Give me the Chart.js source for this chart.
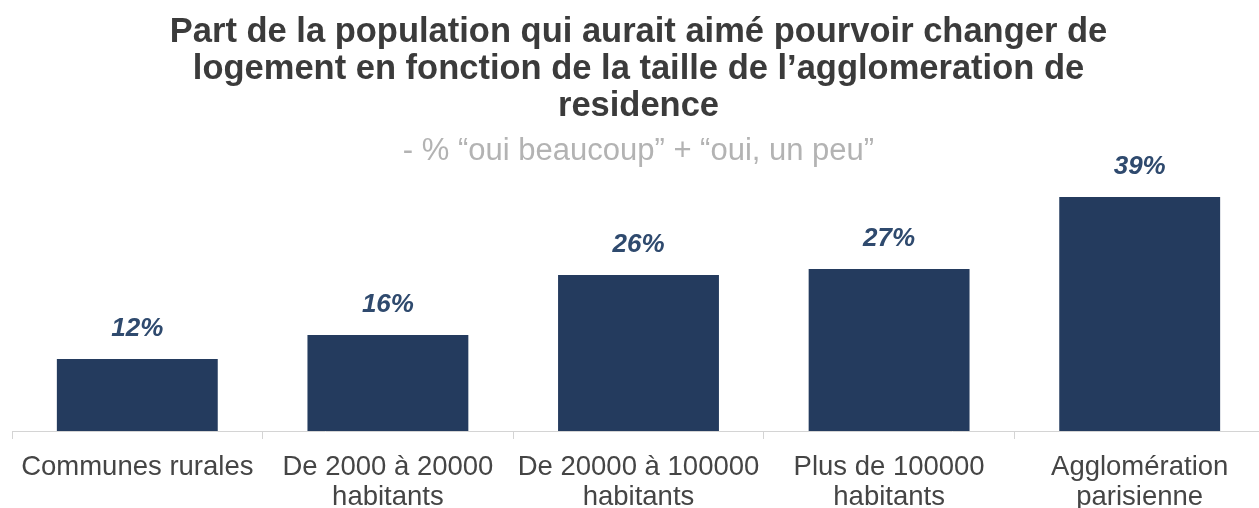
<!DOCTYPE html>
<html>
<head>
<meta charset="utf-8">
<script src="https://cdn.jsdelivr.net/npm/chart.js@4/dist/chart.umd.min.js"></script>
<style>
html,body{margin:0;padding:0;background:#fff;overflow:hidden;}
#wrap{width:1265px;height:508px;}
</style>
</head>
<body>
<div id="wrap"><canvas id="c" width="1265" height="508"></canvas></div>
<script>
const categories = [
  ["Communes rurales"],
  ["De 2000 à 20000", "habitants"],
  ["De 20000 à 100000", "habitants"],
  ["Plus de 100000", "habitants"],
  ["Agglomération", "parisienne"]
];
const values = [12, 16, 26, 27, 39];
const valueLabels = ["12%", "16%", "26%", "27%", "39%"];
const titleLines = [
  "Part de la population qui aurait aimé pourvoir changer de",
  "logement en fonction de la taille de l’agglomeration de",
  "residence"
];
const subtitleText = "- % “oui beaucoup” + “oui, un peu”";

const FONT = '"Liberation Sans", Arial, sans-serif';

const valueLabelPlugin = {
  id: 'valueLabels',
  afterDatasetsDraw(chart) {
    const ctx = chart.ctx;
    const meta = chart.getDatasetMeta(0);
    ctx.save();
    ctx.font = 'italic bold 26px ' + FONT;
    ctx.fillStyle = '#2f4a6e';
    ctx.textAlign = 'center';
    ctx.textBaseline = 'middle';
    meta.data.forEach((bar, i) => {
      ctx.fillText(valueLabels[i], bar.x, bar.y - 30);
    });
    ctx.restore();
  }
};

new Chart(document.getElementById('c'), {
  type: 'bar',
  data: {
    labels: categories,
    datasets: [{
      data: values,
      backgroundColor: '#243b5e',
      borderWidth: 0,
      categoryPercentage: 1,
      barPercentage: 0.642
    }]
  },
  options: {
    responsive: false,
    animation: false,
    layout: { padding: { left: 12, right: 0, top: 14, bottom: 0 } },
    plugins: {
      legend: { display: false },
      tooltip: { enabled: false },
      title: {
        display: true,
        text: titleLines,
        color: '#3b3b3b',
        font: { family: FONT, size: 34.5, weight: 'bold', lineHeight: 1.072 },
        padding: { top: 0, bottom: 9 }
      },
      subtitle: {
        display: true,
        text: subtitleText,
        color: '#b3b3b3',
        font: { family: FONT, size: 31, lineHeight: 1.15 },
        padding: { top: 0, bottom: 1 }
      }
    },
    scales: {
      x: {
        afterFit(scale) { scale.height = 77; },
        grid: {
          display: true,
          drawOnChartArea: false,
          drawTicks: true,
          tickLength: 8,
          color: '#d4d4d4',
          offset: true
        },
        border: { display: true, color: '#d4d4d4', width: 1 },
        ticks: {
          color: '#454545',
          font: { family: FONT, size: 27.5, lineHeight: 1.09 },
          padding: 13,
          autoSkip: false,
          maxRotation: 0,
          minRotation: 0
        }
      },
      y: {
        display: false,
        min: 0,
        max: 43.4
      }
    }
  },
  plugins: [valueLabelPlugin]
});
</script>
</body>
</html>
